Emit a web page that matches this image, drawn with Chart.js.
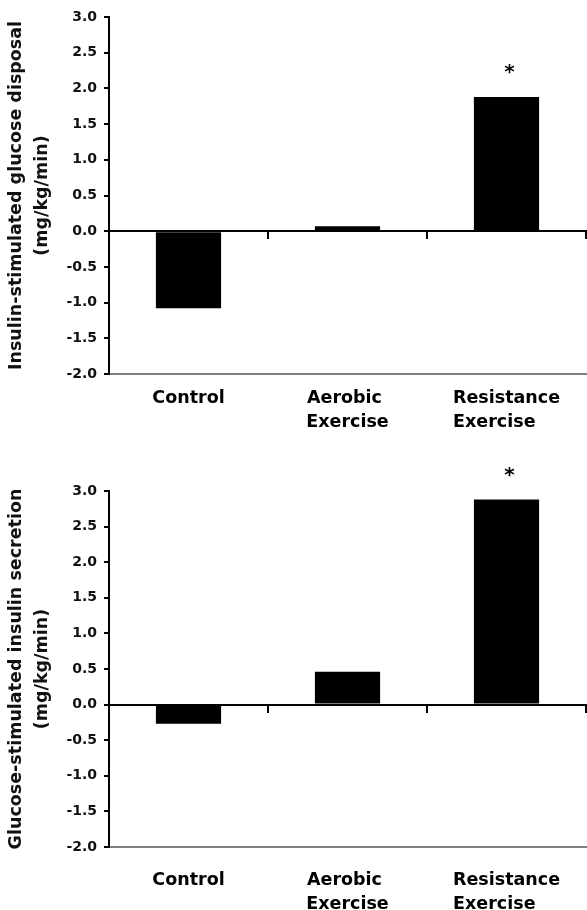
<!DOCTYPE html>
<html>
<head>
<meta charset="utf-8">
<script src="https://cdn.jsdelivr.net/npm/chart.js@4/dist/chart.umd.min.js"></script>
<style>
  body { margin: 0; background: #fff; }
  canvas { display: block; }
</style>
</head>
<body>
<canvas id="graficoDisposal" width="587" height="440"></canvas>
<canvas id="graficoSecretion" width="587" height="470"></canvas>
<script>
const categorias = [['Control'], ['Aerobic', 'Exercise'], ['Resistance', 'Exercise']];
const disposalValores = [-1.08, 0.07, 1.88];
const secretionValores = [-0.27, 0.46, 2.88];
const significativo = [false, false, true];
const yMin = -2.0;
const yMax = 3.0;
const yPasso = 0.5;

const fonte = 'DejaVu Sans';
const fonteCategoria = 'bold 17.5px ' + fonte;

// rótulos de duas linhas alinhados à esquerda, como no original
const medidor = document.createElement('canvas').getContext('2d');
function alinharEsquerda(linhas) {
    if (!Array.isArray(linhas) || linhas.length < 2) return linhas;
    medidor.font = fonteCategoria;
    const larguras = linhas.map(l => medidor.measureText(l).width);
    const maior = Math.max(...larguras);
    const espaco = medidor.measureText(' ').width;
    return linhas.map((l, i) => l + ' '.repeat(Math.round((maior - larguras[i]) / espaco)));
}

// asterisco sobre as barras significativas
const asteriscoPlugin = {
    id: 'asterisco',
    afterDatasetsDraw(chart) {
        const ctx = chart.ctx;
        const barras = chart.getDatasetMeta(0).data;
        ctx.save();
        ctx.fillStyle = '#000';
        ctx.font = 'bold 20px ' + fonte;
        ctx.textAlign = 'center';
        ctx.textBaseline = 'alphabetic';
        barras.forEach((barra, i) => {
            if (significativo[i]) ctx.fillText('*', barra.x + 3, barra.y - 19);
        });
        ctx.restore();
    }
};

function criarGrafico(id, valores, titulo, topo, alturaX, padX) {
    const ctx = document.getElementById(id).getContext('2d');
    return new Chart(ctx, {
        type: 'bar',
        data: {
            labels: categorias,
            datasets: [{
                data: valores,
                backgroundColor: '#000',
                borderWidth: 0,
                categoryPercentage: 1.0,
                barPercentage: 0.41
            }]
        },
        options: {
            responsive: false,
            animation: false,
            layout: { padding: { top: topo, right: 1, bottom: 0, left: 0 } },
            plugins: {
                legend: { display: false },
                tooltip: { enabled: false }
            },
            scales: {
                x: {
                    type: 'category',
                    position: 'bottom',
                    offset: true,
                    grid: { display: false },
                    border: { display: true, color: '#808080', width: 2 },
                    ticks: {
                        color: '#000',
                        font: { family: fonte, size: 17.5, weight: 'bold', lineHeight: 1.4 },
                        padding: padX,
                        maxRotation: 0,
                        autoSkip: false,
                        callback: function(v) { return alinharEsquerda(this.getLabelForValue(v)); }
                    },
                    afterFit: (s) => { s.height = alturaX; }
                },
                xMeio: {
                    type: 'category',
                    axis: 'x',
                    position: { y: 0 },
                    offset: true,
                    grid: {
                        display: true,
                        offset: true,
                        drawOnChartArea: false,
                        drawTicks: true,
                        tickLength: 7,
                        color: '#000',
                        lineWidth: 2
                    },
                    border: { display: true, color: '#000', width: 2 },
                    ticks: { display: false }
                },
                y: {
                    min: yMin,
                    max: yMax,
                    grid: {
                        display: true,
                        drawOnChartArea: false,
                        drawTicks: true,
                        tickLength: 5,
                        color: '#000',
                        lineWidth: 2
                    },
                    border: { display: true, color: '#000', width: 2 },
                    ticks: {
                        stepSize: yPasso,
                        color: '#111',
                        font: { family: fonte, size: 14, weight: 'bold' },
                        padding: 7,
                        callback: (v) => v.toFixed(1)
                    },
                    title: {
                        display: true,
                        text: [titulo, '(mg/kg/min)'],
                        color: '#111',
                        font: { family: fonte, size: 17.5, weight: 'bold', lineHeight: 1.5 },
                        padding: { top: 3, bottom: 0 }
                    },
                    afterFit: (s) => { s.width = 109; }
                }
            }
        },
        plugins: [asteriscoPlugin]
    });
}

document.addEventListener('DOMContentLoaded', function() {
    criarGrafico('graficoDisposal', disposalValores, 'Insulin-stimulated glucose disposal', 17, 66, 4);
    criarGrafico('graficoSecretion', secretionValores, 'Glucose-stimulated insulin secretion', 51, 63, 13);
});
</script>
</body>
</html>
